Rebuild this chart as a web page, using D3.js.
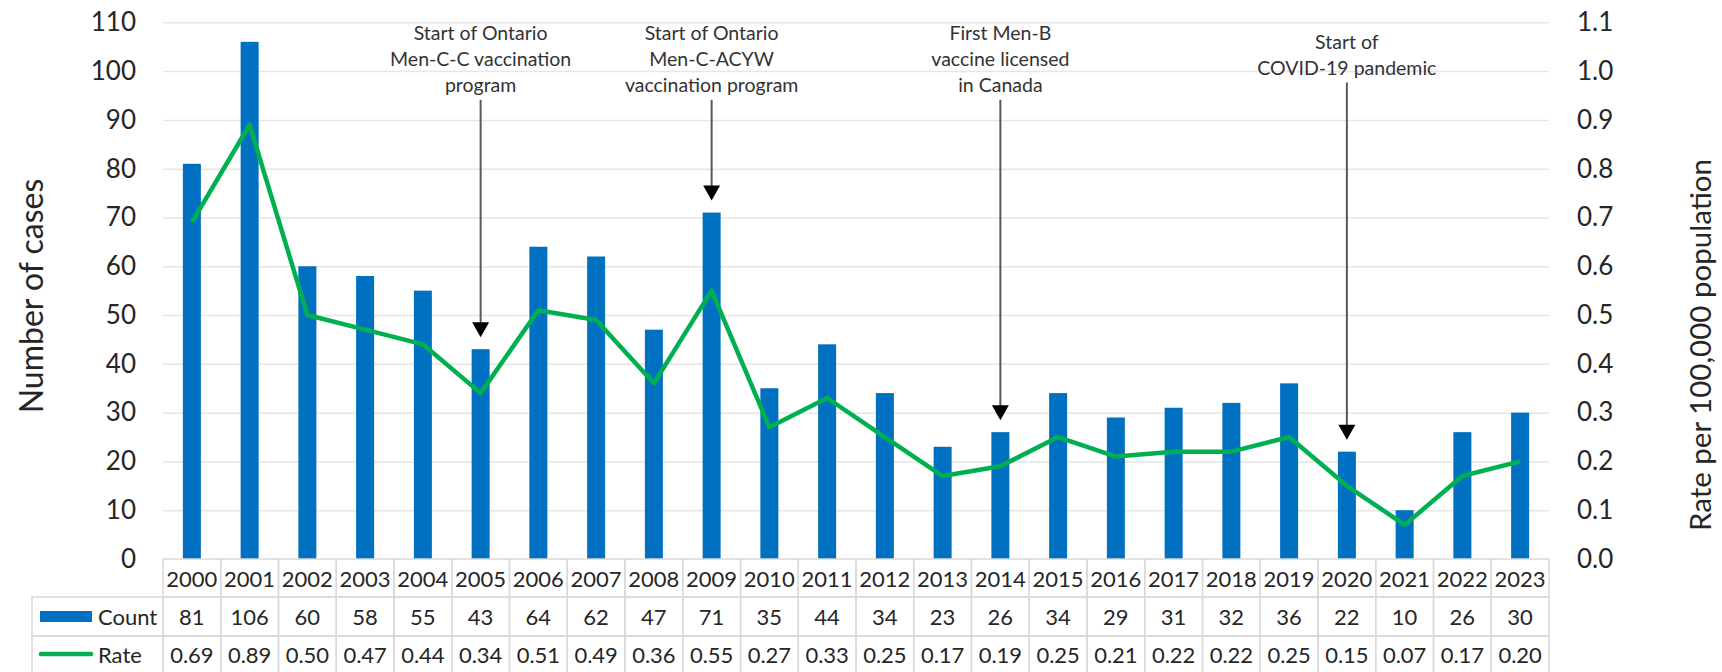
<!DOCTYPE html>
<html>
<head>
<meta charset="utf-8">
<script src="https://cdn.jsdelivr.net/npm/d3@7"></script>
<style>
  html, body { margin: 0; padding: 0; background: #fff; }
  svg { display: block; font-family: Lato, "Open Sans", sans-serif; }
</style>
</head>
<body>
<svg id="chart" width="1722" height="672"></svg>
<script>
// ---- data ----
const years = ["2000","2001","2002","2003","2004","2005","2006","2007","2008","2009","2010","2011",
               "2012","2013","2014","2015","2016","2017","2018","2019","2020","2021","2022","2023"];
const counts = [81,106,60,58,55,43,64,62,47,71,35,44,34,23,26,34,29,31,32,36,22,10,26,30];
const rates = [0.69,0.89,0.50,0.47,0.44,0.34,0.51,0.49,0.36,0.55,0.27,0.33,0.25,0.17,0.19,0.25,0.21,0.22,0.22,0.25,0.15,0.07,0.17,0.20];
const countTicks = [0,10,20,30,40,50,60,70,80,90,100,110];
const rateTicks = [0,0.1,0.2,0.3,0.4,0.5,0.6,0.7,0.8,0.9,1.0,1.1];
const seriesNames = ["Count","Rate"];
const leftTitle = "Number of cases";
const rightTitle = "Rate per 100,000 population";
const annoYears = ["2005","2009","2014","2020"];
const annoTexts = [
  ["Start of Ontario","Men-C-C vaccination","program"],
  ["Start of Ontario","Men-C-ACYW","vaccination program"],
  ["First Men-B","vaccine licensed","in Canada"],
  ["Start of","COVID-19 pandemic"]
];

// ---- layout ----
const svg = d3.select("#chart");
const L = 163, R = 1549, T = 22.3, B = 559;
const textCol = "#262626";
const blue = "#0070c0", green = "#00b050", gridCol = "#e6e6e6", tableCol = "#d9d9d9";

const x = d3.scaleBand().domain(years).range([L, R]).paddingInner(0).paddingOuter(0);
const y = d3.scaleLinear().domain([0, 110]).range([B, T]);
const y2 = d3.scaleLinear().domain([0, 1.1]).range([B, T]);
const cx = d => x(d) + x.bandwidth() / 2;

// gridlines
const grid = svg.append("g").attr("transform", `translate(${L},0)`)
  .call(d3.axisLeft(y).tickValues(countTicks.slice(1)).tickSize(-(R - L)).tickFormat(""));
grid.select(".domain").remove();
grid.selectAll("line").attr("stroke", gridCol).attr("stroke-width", 1.5);

// bars
const barW = 18;
svg.append("g").selectAll("rect").data(years).join("rect")
  .attr("x", d => cx(d) - barW / 2)
  .attr("width", barW)
  .attr("y", (d, i) => y(counts[i]))
  .attr("height", (d, i) => y(0) - y(counts[i]))
  .attr("fill", blue);

// rate line
const line = d3.line().x((d, i) => cx(years[i])).y(d => y2(d));
svg.append("path").datum(rates)
  .attr("d", line)
  .attr("fill", "none")
  .attr("stroke", green)
  .attr("stroke-width", 4.5)
  .attr("stroke-linejoin", "round");

// left axis
const ax = svg.append("g").attr("transform", "translate(136,0)")
  .call(d3.axisLeft(y).tickValues(countTicks).tickSize(0).tickPadding(0));
ax.select(".domain").remove();
ax.selectAll("text").attr("font-size", 26).attr("fill", textCol).attr("font-family", "Lato");

// right axis
const ax2 = svg.append("g").attr("transform", "translate(1577,0)")
  .call(d3.axisRight(y2).tickValues(rateTicks).tickSize(0).tickPadding(0).tickFormat(d3.format(".1f")));
ax2.select(".domain").remove();
ax2.selectAll("text").attr("font-size", 26).attr("fill", textCol).attr("font-family", "Lato");

// axis titles
svg.append("text")
  .attr("transform", "translate(30,296) rotate(-90)")
  .attr("text-anchor", "middle").attr("dominant-baseline", "central")
  .attr("font-size", 32).attr("fill", textCol).text(leftTitle);
svg.append("text")
  .attr("transform", "translate(1699,345) rotate(-90)")
  .attr("text-anchor", "middle").attr("dominant-baseline", "central")
  .attr("font-size", 29.5).attr("fill", textCol).text(rightTitle);

// data table
const rowY = [B, 597, 636, 675];
const tbl = svg.append("g");
tbl.selectAll("rect.yr").data(years).join("rect").attr("class", "yr")
  .attr("x", d => x(d)).attr("y", rowY[0]).attr("width", x.bandwidth()).attr("height", rowY[1] - rowY[0])
  .attr("fill", "none").attr("stroke", tableCol).attr("stroke-width", 1.5);
[0, 1].forEach(r => {
  tbl.selectAll("rect.r" + r).data(years).join("rect").attr("class", "r" + r)
    .attr("x", d => x(d)).attr("y", rowY[r + 1]).attr("width", x.bandwidth()).attr("height", rowY[r + 2] - rowY[r + 1])
    .attr("fill", "none").attr("stroke", tableCol).attr("stroke-width", 1.5);
  tbl.append("rect").attr("x", 32).attr("y", rowY[r + 1]).attr("width", L - 32).attr("height", rowY[r + 2] - rowY[r + 1])
    .attr("fill", "none").attr("stroke", tableCol).attr("stroke-width", 1.5);
});
const tfs = 22;
tbl.selectAll("text.yr").data(years).join("text").attr("class", "yr")
  .attr("x", d => cx(d)).attr("y", (rowY[0] + rowY[1]) / 2)
  .attr("text-anchor", "middle").attr("dominant-baseline", "central")
  .attr("font-size", tfs).attr("fill", textCol).text(d => d);
tbl.selectAll("text.ct").data(counts).join("text").attr("class", "ct")
  .attr("x", (d, i) => cx(years[i])).attr("y", (rowY[1] + rowY[2]) / 2)
  .attr("text-anchor", "middle").attr("dominant-baseline", "central")
  .attr("font-size", tfs).attr("fill", textCol).text(d => d);
tbl.selectAll("text.rt").data(rates).join("text").attr("class", "rt")
  .attr("x", (d, i) => cx(years[i])).attr("y", (rowY[2] + 674) / 2 - 1)
  .attr("text-anchor", "middle").attr("dominant-baseline", "central")
  .attr("font-size", tfs).attr("fill", textCol).text(d => d3.format(".2f")(d));
// legend keys
tbl.append("rect").attr("x", 40).attr("y", 611).attr("width", 52).attr("height", 11).attr("fill", blue);
tbl.append("line").attr("x1", 41).attr("x2", 91).attr("y1", 654).attr("y2", 654)
  .attr("stroke", green).attr("stroke-width", 4.5).attr("stroke-linecap", "round");
tbl.selectAll("text.lg").data(seriesNames).join("text").attr("class", "lg")
  .attr("x", 98).attr("y", (d, i) => i === 0 ? 616 : 654)
  .attr("dominant-baseline", "central")
  .attr("font-size", tfs).attr("fill", textCol).text(d => d);

// annotations
const anno = svg.append("g");
annoYears.forEach((yr, k) => {
  const lines = annoTexts[k];
  const top = lines.length === 3 ? 32 : 41;
  const lh = 26.4;
  const xc = cx(yr);
  lines.forEach((t, j) => {
    anno.append("text").attr("x", xc).attr("y", top + j * lh)
      .attr("text-anchor", "middle").attr("dominant-baseline", "central")
      .attr("font-size", 19.5).attr("fill", "#333").text(t);
  });
  const startY = top + (lines.length - 1) * lh + 15;
  const tip = y(counts[years.indexOf(yr)]) - 12;
  const headH = 15, headW = 17;
  anno.append("line").attr("x1", xc).attr("x2", xc).attr("y1", startY).attr("y2", tip - headH + 2)
    .attr("stroke", "#595959").attr("stroke-width", 2);
  anno.append("path")
    .attr("d", `M${xc - headW / 2},${tip - headH} L${xc + headW / 2},${tip - headH} L${xc},${tip} Z`)
    .attr("fill", "#000");
});
</script>
</body>
</html>
